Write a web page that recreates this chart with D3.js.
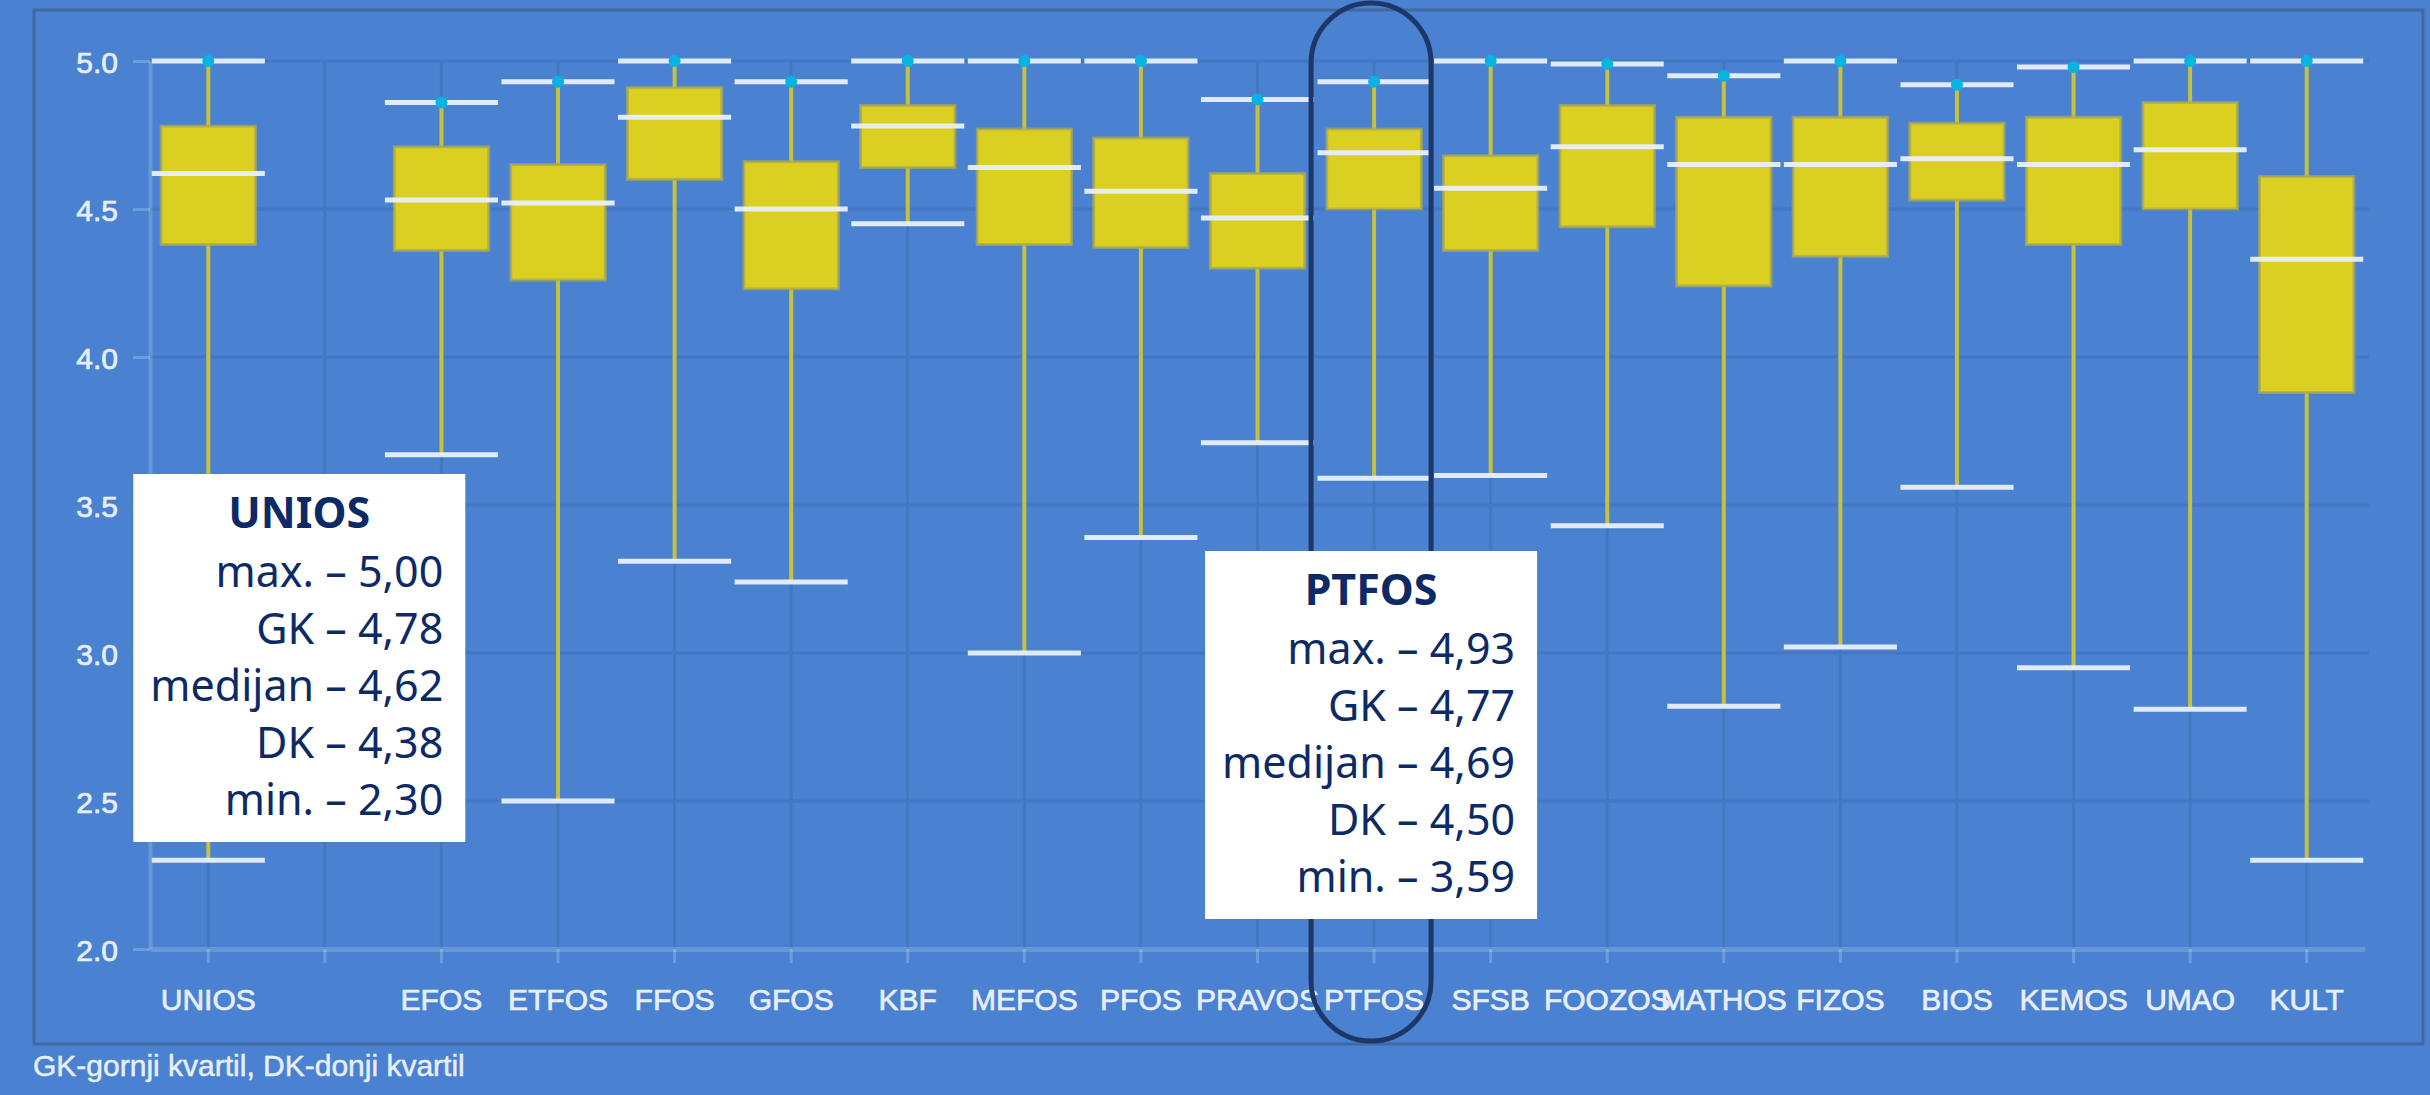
<!DOCTYPE html>
<html>
<head>
<meta charset="utf-8">
<script src="https://cdn.jsdelivr.net/npm/d3@7"></script>
<style>
  body { margin: 0; background: #4a82d1; }
  svg { display: block; }
</style>
</head>
<body>
<div id="chart"></div>
<script>
// slot '' is the empty gap between UNIOS and the faculties
const categories = ['UNIOS', '', 'EFOS', 'ETFOS', 'FFOS', 'GFOS', 'KBF', 'MEFOS', 'PFOS', 'PRAVOS',
  'PTFOS', 'SFSB', 'FOOZOS', 'MATHOS', 'FIZOS', 'BIOS', 'KEMOS', 'UMAO', 'KULT'];
const maxValues    = [5.00, null, 4.86, 4.93, 5.00, 4.93, 5.00, 5.00, 5.00, 4.87, 4.93, 5.00, 4.99, 4.95, 5.00, 4.92, 4.98, 5.00, 5.00];
const q3Values     = [4.78, null, 4.71, 4.65, 4.91, 4.66, 4.85, 4.77, 4.74, 4.62, 4.77, 4.68, 4.85, 4.81, 4.81, 4.79, 4.81, 4.86, 4.61];
const medianValues = [4.62, null, 4.53, 4.52, 4.81, 4.50, 4.78, 4.64, 4.56, 4.47, 4.69, 4.57, 4.71, 4.65, 4.65, 4.67, 4.65, 4.70, 4.33];
const q1Values     = [4.38, null, 4.36, 4.26, 4.60, 4.23, 4.64, 4.38, 4.37, 4.30, 4.50, 4.36, 4.44, 4.24, 4.34, 4.53, 4.38, 4.50, 3.88];
const minValues    = [2.30, null, 3.67, 2.50, 3.31, 3.24, 4.45, 3.00, 3.39, 3.71, 3.59, 3.60, 3.43, 2.82, 3.02, 3.56, 2.95, 2.81, 2.30];
const yTicks = [2.0, 2.5, 3.0, 3.5, 4.0, 4.5, 5.0];
const statLabels = ['max.', 'GK', 'medijan', 'DK', 'min.'];
const footnote = 'GK-gornji kvartil, DK-donji kvartil';

const width = 2430, height = 1095;
const plot = { left: 150, right: 2365, top: 61, bottom: 949 };

const svg = d3.select('#chart').append('svg')
  .attr('width', width)
  .attr('height', height)
  .style('font-family', '"Liberation Sans", Arial, sans-serif');

const x = d3.scaleBand().domain(categories).range([plot.left, plot.right]).padding(0);
const y = d3.scaleLinear().domain([2, 5]).range([plot.bottom, plot.top]);
const step = x.bandwidth();
const cx = c => x(c) + step / 2;

const data = categories.map((c, i) => ({
  cat: c, max: maxValues[i], q3: q3Values[i], med: medianValues[i], q1: q1Values[i], min: minValues[i]
})).filter(d => d.max != null);

// outer frame
svg.append('rect')
  .attr('x', 34).attr('y', 10)
  .attr('width', 2389).attr('height', 1034)
  .attr('fill', 'none')
  .attr('stroke', '#40699f')
  .attr('stroke-width', 3);

// grid
const grid = svg.append('g').attr('stroke', '#4377c2').attr('stroke-width', 3);
grid.selectAll('line.h')
  .data(yTicks.filter(t => t > 2))
  .join('line')
  .attr('class', 'h')
  .attr('x1', plot.left).attr('x2', plot.right + 4)
  .attr('y1', d => y(d)).attr('y2', d => y(d));
grid.selectAll('line.v')
  .data(categories)
  .join('line')
  .attr('class', 'v')
  .attr('x1', d => cx(d)).attr('x2', d => cx(d))
  .attr('y1', y(5)).attr('y2', y(2));

// axes
const yAxis = svg.append('g')
  .attr('transform', `translate(${plot.left},0)`)
  .call(d3.axisLeft(y).tickValues(yTicks).tickFormat(d3.format('.1f')).tickSize(17).tickSizeOuter(0).tickPadding(15));
yAxis.select('.domain').attr('stroke', 'rgba(255,255,255,0.17)').attr('stroke-width', 4);
yAxis.selectAll('.tick line').attr('stroke', 'rgba(255,255,255,0.2)').attr('stroke-width', 3);
yAxis.selectAll('.tick text').attr('fill', '#e8eef8').attr('font-size', 30).attr('dy', '0.38em')
  .attr('stroke', '#e8eef8').attr('stroke-width', 0.7);

const xAxis = svg.append('g')
  .attr('transform', `translate(0,${plot.bottom})`)
  .call(d3.axisBottom(x).tickSize(14).tickSizeOuter(0).tickPadding(26));
xAxis.select('.domain').attr('stroke', 'rgba(255,255,255,0.17)').attr('stroke-width', 5);
xAxis.selectAll('.tick line').attr('stroke', 'rgba(255,255,255,0.2)').attr('stroke-width', 3);
xAxis.selectAll('.tick text').attr('fill', '#e8eef8').attr('font-size', 30)
  .attr('stroke', '#e8eef8').attr('stroke-width', 0.7);

// boxes
const boxW = step * 0.81;
const capW = step * 0.97;
const g = svg.append('g');

g.selectAll('line.whisker-top')
  .data(data)
  .join('line')
  .attr('x1', d => cx(d.cat)).attr('x2', d => cx(d.cat))
  .attr('y1', d => y(d.q3)).attr('y2', d => y(d.max))
  .attr('stroke', '#c6c13e').attr('stroke-width', 4);
g.selectAll('line.whisker-bottom')
  .data(data)
  .join('line')
  .attr('x1', d => cx(d.cat)).attr('x2', d => cx(d.cat))
  .attr('y1', d => y(d.q1)).attr('y2', d => y(d.min))
  .attr('stroke', '#c6c13e').attr('stroke-width', 4);

g.selectAll('rect.box')
  .data(data)
  .join('rect')
  .attr('x', d => cx(d.cat) - boxW / 2)
  .attr('y', d => y(d.q3))
  .attr('width', boxW)
  .attr('height', d => y(d.q1) - y(d.q3))
  .attr('fill', '#dbcf22')
  .attr('stroke', 'rgba(170,168,80,0.7)')
  .attr('stroke-width', 3);

const caps = [d => d.max, d => d.min, d => d.med];
caps.forEach(acc => {
  g.append('g').selectAll('line')
    .data(data)
    .join('line')
    .attr('x1', d => cx(d.cat) - capW / 2).attr('x2', d => cx(d.cat) + capW / 2)
    .attr('y1', d => y(acc(d))).attr('y2', d => y(acc(d)))
    .attr('stroke', '#e9eff9').attr('stroke-width', 5).attr('stroke-opacity', 0.95);
});

g.selectAll('circle.max')
  .data(data)
  .join('circle')
  .attr('cx', d => cx(d.cat))
  .attr('cy', d => y(d.max))
  .attr('r', 6)
  .attr('fill', '#05b4e2');

// PTFOS highlight
const hl = cx('PTFOS') - 3;
svg.append('rect')
  .attr('x', hl - 60).attr('y', 3)
  .attr('width', 120).attr('height', 1038)
  .attr('rx', 60).attr('ry', 60)
  .attr('fill', 'none')
  .attr('stroke', '#1d3768')
  .attr('stroke-width', 5);

// stat boxes
const fmt = v => d3.format('.2f')(v).replace('.', ',');
const notes = [
  { cat: 'UNIOS', dx: 91, top: 474 },
  { cat: 'PTFOS', dx: -3, top: 551 }
];
const noteW = 332, noteH = 368;
notes.forEach(n => {
  const d = data.find(e => e.cat === n.cat);
  const left = cx(n.cat) + n.dx - noteW / 2;
  const ng = svg.append('g').attr('transform', `translate(${left},${n.top})`)
    .style('font-family', '"Noto Sans", "Open Sans", sans-serif');
  ng.append('rect').attr('width', noteW).attr('height', noteH).attr('fill', '#ffffff');
  ng.append('text')
    .attr('x', noteW / 2).attr('y', 54)
    .attr('text-anchor', 'middle')
    .attr('font-size', 43).attr('font-weight', 'bold')
    .attr('fill', '#0c2a66')
    .text(n.cat);
  const vals = [d.max, d.q3, d.med, d.q1, d.min];
  ng.selectAll('text.stat')
    .data(statLabels)
    .join('text')
    .attr('class', 'stat')
    .attr('x', noteW - 22)
    .attr('y', (s, i) => 113 + i * 57)
    .attr('text-anchor', 'end')
    .attr('font-size', 43)
    .attr('fill', '#0c2a66')
    .text((s, i) => `${s} – ${fmt(vals[i])}`);
});

svg.append('text')
  .attr('x', 33).attr('y', 1076)
  .attr('font-size', 30)
  .attr('fill', '#e8eef8')
  .attr('stroke', '#e8eef8').attr('stroke-width', 0.5)
  .text(footnote);
</script>
</body>
</html>
